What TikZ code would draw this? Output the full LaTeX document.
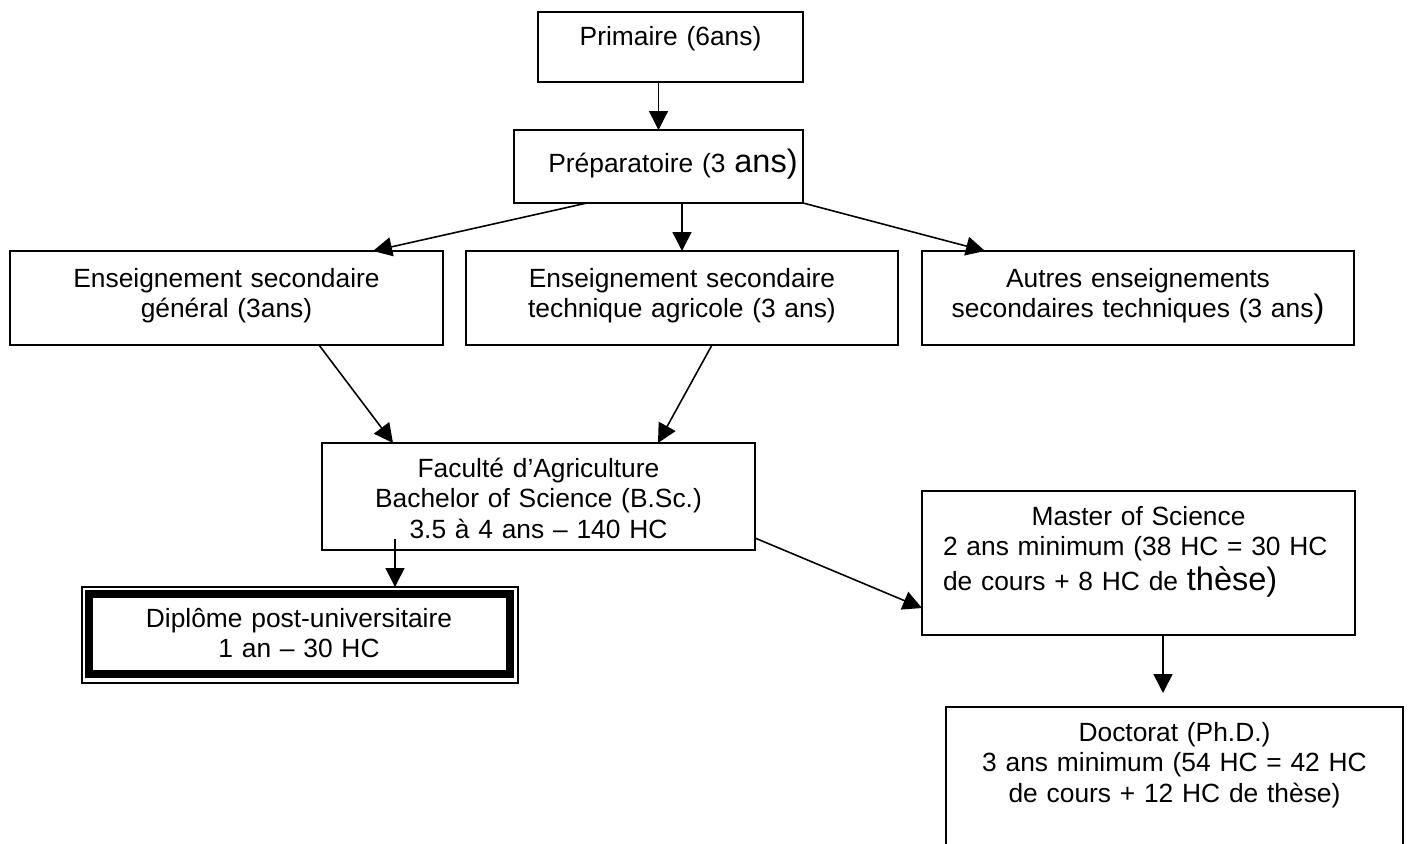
\documentclass[tikz,border=0pt]{standalone}
\usepackage{fontspec}
\setmainfont{Liberation Sans}
\usetikzlibrary{arrows.meta}

\tikzstyle{box} = [rectangle, draw=black, line width=1.1pt, inner sep=0pt, outer sep=0pt, anchor=north west, align=center, font=\fontsize{15}{17.6}\selectfont]
\tikzstyle{thickbox} = [box, line width=0.16cm]
\tikzstyle{arrow} = [line width=0.9pt, -{Triangle[length=0.38cm, width=0.38cm]}]
\newcommand{\bigtxt}[1]{{\fontsize{18.5}{17.6}\selectfont #1}}

\begin{document}
\begin{tikzpicture}
	\useasboundingbox (0,0) rectangle (28.16,-16.88);

	\node (prim) [box, text width=5.30cm, text height=0.66cm, text depth=0.74cm] at (10.76,-0.24) {Primaire (6ans)};
	\node (prep) [box, text width=5.78cm, text height=0.84cm, text depth=0.62cm] at (10.28,-2.60) {\hspace*{0.58cm}Préparatoire (3 \bigtxt{ans)}};

	\node (gen) [box, text width=8.66cm, text height=0.72cm, text depth=1.16cm] at (0.20,-5.02) {Enseignement secondaire\\général (3ans)};
	\node (agri) [box, text width=8.64cm, text height=0.72cm, text depth=1.16cm] at (9.32,-5.02) {Enseignement secondaire\\technique agricole (3 ans)};
	\node (autres) [box, text width=8.64cm, text height=0.72cm, text depth=1.16cm] at (18.44,-5.02) {Autres enseignements\\secondaires techniques (3 ans\bigtxt{)}};

	\node (fac) [box, text width=8.66cm, text height=0.68cm, text depth=1.46cm] at (6.44,-8.86) {Faculté d’Agriculture\\Bachelor of Science (B.Sc.)\\3.5 à 4 ans – 140 HC};
	\node (dipl) [thickbox, text width=8.42cm, text height=0.66cm, text depth=0.94cm] at (1.77,-11.88) {Diplôme post-universitaire\\1 an – 30 HC};
	\draw [line width=0.8pt] ([xshift=-0.13cm,yshift=0.14cm]dipl.north west) rectangle ([xshift=0.17cm,yshift=-0.18cm]dipl.south east);

	\node (master) [box, align=left, text width=8.66cm, text height=0.68cm, text depth=2.20cm] at (18.44,-9.82) {\makebox[\linewidth]{Master of Science}\\\hspace*{0.42cm}2 ans minimum (38 HC = 30 HC\\[0.08cm]\hspace*{0.42cm}de cours + 8 HC de \bigtxt{thèse)}};
	\node (doc) [box, text width=9.14cm, text height=0.68cm, text depth=2.38cm] at (18.92,-14.14) {Doctorat (Ph.D.)\\3 ans minimum (54 HC = 42 HC\\de cours + 12 HC de thèse)};

	\draw [arrow] (prim.south -| prep.north) -- (prep.north);
	\draw [arrow] ([xshift=-1.43cm]prep.south) -- ([xshift=2.93cm]gen.north);
	\draw [arrow] (prep.south -| agri.north) -- (agri.north);
	\draw [arrow] (prep.south east) -- ([xshift=-3.06cm]autres.north);
	\draw [arrow] ([xshift=1.85cm]gen.south) -- ([xshift=-2.91cm]fac.north);
	\draw [arrow] ([xshift=0.60cm]agri.south) -- ([xshift=2.39cm]fac.north);
	\draw [arrow] ([xshift=-2.87cm,yshift=0.22cm]fac.south) -- ([xshift=1.92cm,yshift=0.14cm]dipl.north);
	\draw [arrow] ([yshift=-0.83cm]fac.east) -- ([yshift=-0.90cm]master.west);
	\draw [arrow] ([xshift=0.49cm]master.south) -- ([xshift=-0.23cm,yshift=0.28cm]doc.north);

\end{tikzpicture}
\end{document}
